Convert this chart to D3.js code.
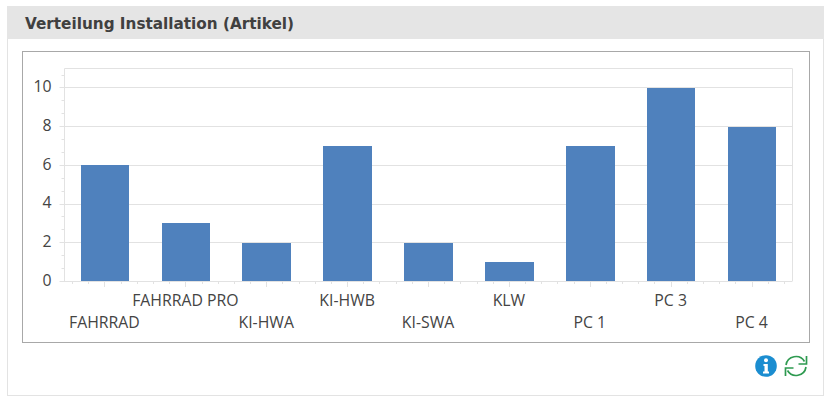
<!DOCTYPE html>
<html>
<head>
<meta charset="utf-8">
<script src="https://cdn.jsdelivr.net/npm/d3@7/dist/d3.min.js"></script>
<style>
html,body{margin:0;padding:0;background:#fff}
svg{display:block}
.lbl{font-family:"Open Sans",sans-serif;font-size:15.8px;fill:#444}
</style>
</head>
<body>
<svg id="chart" width="828" height="404"></svg>
<script>
const categories = ["FAHRRAD","FAHRRAD PRO","KI-HWA","KI-HWB","KI-SWA","KLW","PC 1","PC 3","PC 4"];
const counts = [6,3,2,7,2,1,7,10,8];
const yTicks = [0,2,4,6,8,10];
const titleText = "Verteilung Installation (Artikel)";

const svg = d3.select("#chart");
const gridColor = "#e2e2e2";

// Card with its grey heading strip
svg.append("rect").attr("x",7.5).attr("y",6.5).attr("width",816).attr("height",389).attr("fill","#fff").attr("stroke","#e3e3e3");
svg.append("rect").attr("x",7).attr("y",6).attr("width",817).attr("height",33).attr("fill","#e5e5e5");
svg.append("text").attr("x",25).attr("y",29).text(titleText)
  .attr("font-family","DejaVu Sans").attr("font-weight","bold").attr("font-size",15.25).attr("fill","#404040");

// Frame round the chart
svg.append("rect").attr("x",22.5).attr("y",51.5).attr("width",787).attr("height",291).attr("fill","#fff").attr("stroke","#a8a8a8");

const plotLeft = 64.5, plotRight = 792.5, plotBottom = 281, plotTop = 68.15;
const x = d3.scaleBand().domain(categories).range([plotLeft,plotRight]);
const y = d3.scaleLinear().domain([0,11]).range([plotBottom,plotTop]);
const rowOf = v => Math.round(y(v)-0.01)+.5;
const bandStep = x.bandwidth();
const centre = d => x(d)+bandStep/2;

// Plot border and horizontal grid
const plot = svg.append("g");
plot.append("path").attr("fill","none").attr("stroke",gridColor)
  .attr("d",`M${plotLeft},${plotBottom}V68.5H${plotRight}V${plotBottom}`);
plot.selectAll("line.grid").data(yTicks).join("line").attr("class","grid")
  .attr("x1",plotLeft-5).attr("x2",plotRight)
  .attr("y1",rowOf).attr("y2",rowOf)
  .attr("stroke",gridColor);

// Columns, snapped to whole pixels
const barLeft = d => Math.round(centre(d)-24.25);
const barRight = d => Math.round(centre(d)+24.25);
plot.selectAll("rect.bar").data(categories).join("rect").attr("class","bar")
  .attr("x",barLeft)
  .attr("width",d=>barRight(d)-barLeft(d))
  .attr("y",(d,i)=>Math.ceil(y(counts[i])))
  .attr("height",(d,i)=>plotBottom-Math.ceil(y(counts[i])))
  .attr("fill","#4f81bd");

// Value axis: labels from the axis generator, minor ticks every two thirds of a unit
const minorRows = d3.range(0,11,2/3);
svg.append("g").selectAll("line").data(minorRows).join("line")
  .attr("x1",plotLeft-3).attr("x2",plotLeft)
  .attr("y1",rowOf).attr("y2",rowOf).attr("stroke",gridColor);
const yAxis = svg.append("g").attr("transform",`translate(${plotLeft},0)`)
  .call(d3.axisLeft(y).tickValues(yTicks).tickSize(0).tickPadding(13).tickFormat(d3.format("d")));
yAxis.select(".domain").remove();
yAxis.selectAll("text").attr("class","lbl").attr("font-size",null).attr("font-family",null)
  .attr("dy",4.2);

// Category axis: five ticks per band centred on the label, staggered on two rows
const minorColumns = d3.range(0,categories.length*5).map(i=>plotLeft+(i+.5)*bandStep/5);
svg.append("g").selectAll("line").data(minorColumns).join("line")
  .attr("x1",d=>Math.floor(d)+.5).attr("x2",d=>Math.floor(d)+.5)
  .attr("y1",plotBottom).attr("y2",plotBottom+3).attr("stroke",gridColor);
svg.append("g").selectAll("line").data(categories).join("line")
  .attr("x1",d=>Math.floor(centre(d))+.5).attr("x2",d=>Math.floor(centre(d))+.5)
  .attr("y1",plotBottom).attr("y2",plotBottom+6).attr("stroke",gridColor);
const xAxis = svg.append("g").attr("transform",`translate(-0.5,${plotBottom})`)
  .call(d3.axisBottom(x).tickSize(0).tickPadding(0));
xAxis.select(".domain").remove();
xAxis.selectAll("text").attr("class","lbl").attr("font-size",null).attr("font-family",null)
  .attr("dy",null)
  .attr("y",(d,i)=>i%2 ? 25 : 47);

// Info icon
const info = svg.append("g").attr("transform","translate(766,366)");
info.append("circle").attr("r",10.8).attr("fill","#1b8dd0");
info.append("circle").attr("cy",-5.8).attr("r",2).attr("fill","#fff");
info.append("path").attr("d","M-2.5,-2H1.8V5.5H3V7.5H-3V5.5H-1.5V0H-2.5Z").attr("fill","#fff");

// Refresh icon
const refresh = svg.append("g").attr("transform","translate(796,366)")
  .attr("fill","none").attr("stroke","#2e9a50").attr("stroke-width",1.7);
refresh.append("path").attr("d","M-10,-1A10,10 0 0 1 8.5,-4.5");
refresh.append("path").attr("d","M10,1A10,10 0 0 1 -8.5,4.5");
refresh.append("path").attr("d","M10.5,-10V-2H2.5");
refresh.append("path").attr("d","M-10.5,10V2H-2.5");
</script>
</body>
</html>
